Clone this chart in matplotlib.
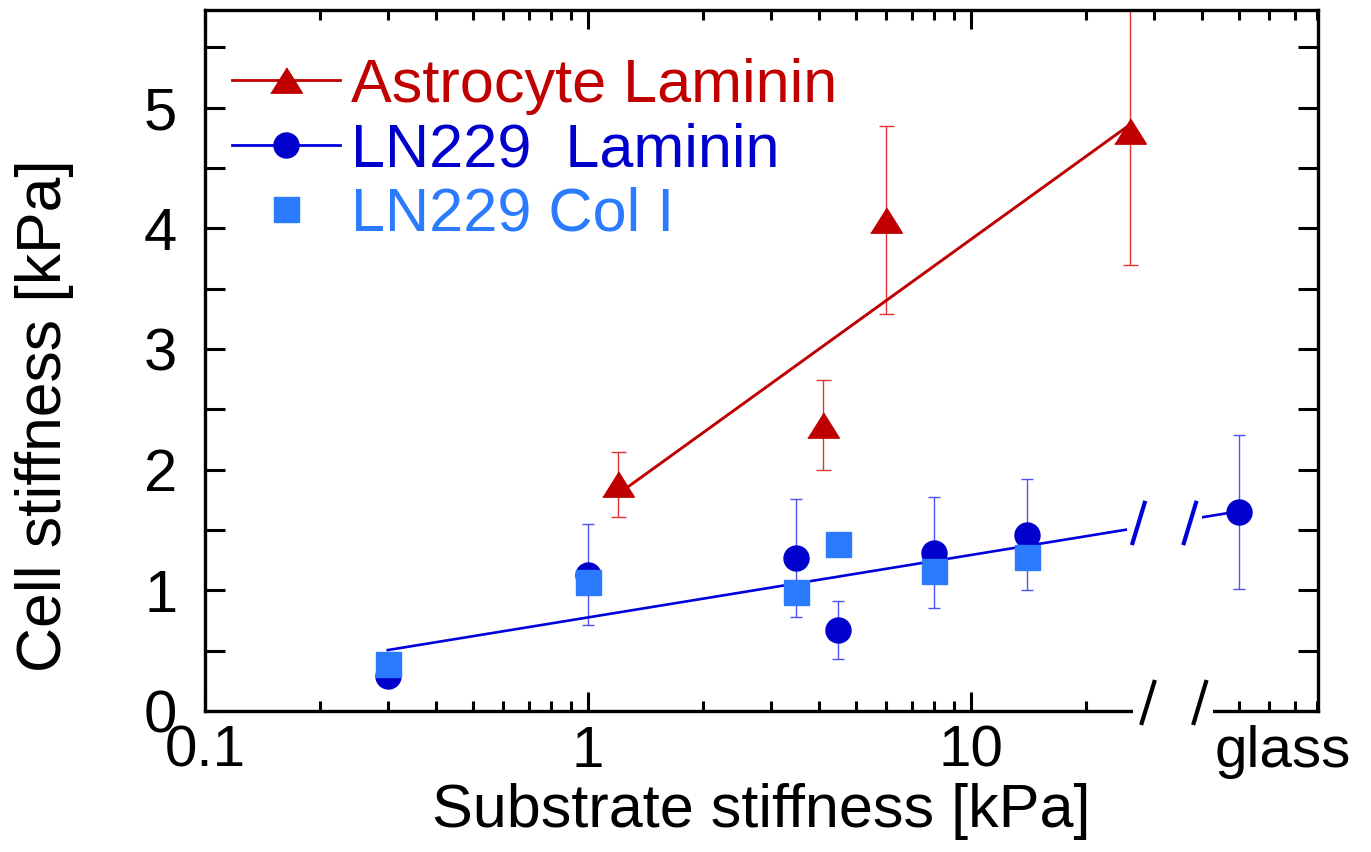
import matplotlib
matplotlib.use('Agg')
import matplotlib.pyplot as plt
import matplotlib.transforms as mtransforms
from matplotlib.lines import Line2D
from matplotlib.patches import Rectangle
from matplotlib.ticker import LogLocator, NullFormatter, FixedLocator

plt.rcParams['font.family'] = ['Liberation Sans', 'DejaVu Sans']

# ---------------- data ----------------
astro_x = [1.2, 4.1, 6.0, 26.0]
astro_y = [1.88, 2.37, 4.07, 4.81]
astro_err = [0.27, 0.37, 0.78, 1.11]
astro_fit_x = [1.2, 26.0]
astro_fit_y = [1.80, 4.86]

lam_x = [0.3, 1.0, 3.5, 4.5, 8.0, 14.0, 50.0]
lam_y = [0.29, 1.13, 1.27, 0.67, 1.31, 1.46, 1.65]
lam_err = [0.0, 0.42, 0.49, 0.24, 0.46, 0.46, 0.64]
lam_fit_x = [0.3, 50.0]
lam_fit_y = [0.505, 1.655]

col_x = [0.3, 1.0, 3.5, 4.5, 8.0, 14.0]
col_y = [0.39, 1.07, 0.99, 1.38, 1.16, 1.28]

legend_labels = ['Astrocyte Laminin', 'LN229  Laminin', 'LN229 Col I']
xtick_vals = [0.1, 1, 10]
xtick_labels = ['0.1', '1', '10']
glass_label = 'glass'
ytick_vals = [0, 1, 2, 3, 4, 5]
ytick_minor = [0.5, 1.5, 2.5, 3.5, 4.5, 5.5]
xlabel = 'Substrate stiffness [kPa]'
ylabel = 'Cell stiffness [kPa]'

# ---------------- style ----------------
RED = '#C00000'
RED_ERR = '#DD3333'
BLUE = '#0000CC'
BLUE_LINE = '#0000DD'
BLUE_ERR = '#5050F8'
LBLUE = '#2B7BFF'
tri = [(-1, -0.8), (1, -0.8), (0, 0.8)]
XPAD = 10

fig = plt.figure(figsize=(13.71, 8.52), dpi=100)
W, H = 1371, 852
ax = fig.add_axes([205 / W, 1 - 711 / H, (1318 - 205) / W, (711 - 10) / H])
ax.set_xscale('log')
ax.set_xlim(0.1, 80.5)
ax.set_ylim(0, 5.81)

# astrocyte
ax.errorbar(astro_x, astro_y, yerr=astro_err, fmt='none', ecolor=RED_ERR,
            elinewidth=1.0, capsize=5.4, capthick=1.0, zorder=2)
ax.plot(astro_fit_x, astro_fit_y, color=RED, lw=2.1, zorder=3)
ax.plot(astro_x, astro_y, ls='none', marker=tri, ms=22.8, color=RED, zorder=4)

# LN229 laminin
ax.errorbar(lam_x, lam_y, yerr=lam_err, fmt='none', ecolor=BLUE_ERR,
            elinewidth=1.0, capsize=4.6, capthick=1.0, zorder=2)
ax.plot(lam_fit_x, lam_fit_y, color=BLUE_LINE, lw=1.9, zorder=3)
ax.plot(lam_x, lam_y, ls='none', marker='o', ms=18, color=BLUE, zorder=4)

# LN229 Col I
ax.plot(col_x, col_y, ls='none', marker='s', ms=18, color=LBLUE, zorder=5)

# axis break: white gaps + slashes
ax.add_patch(Rectangle((25.5, 1.3), 40.0 - 25.5, 0.6, facecolor='white',
                       edgecolor='none', zorder=3.5))
ax.add_patch(Rectangle((26.5, -0.07), 42.9 - 26.5, 0.17, facecolor='white',
                       edgecolor='none', zorder=3.5, clip_on=False))
for xs in ([27.8, 30.2], [38.0, 41.2]):
    ax.plot(xs, [-0.116, 0.257], color='black', lw=3.0, clip_on=False,
            zorder=6, solid_capstyle='butt')
for xs in ([26.3, 28.5], [35.8, 38.8]):
    ax.plot(xs, [1.375, 1.742], color=BLUE_LINE, lw=3.0, zorder=6,
            solid_capstyle='butt')

# ticks
ax.xaxis.set_major_locator(FixedLocator(xtick_vals))
ax.set_xticklabels(xtick_labels)
ax.xaxis.set_minor_locator(LogLocator(base=10, subs=range(2, 10)))
ax.xaxis.set_minor_formatter(NullFormatter())
ax.set_yticks(ytick_vals)
ax.set_yticks(ytick_minor, minor=True)
ax.tick_params(axis='both', which='both', direction='in', top=True, right=True)
ax.tick_params(axis='x', which='major', length=14, width=2.2, pad=XPAD, labelsize=42)
ax.tick_params(axis='x', which='minor', length=7, width=2.2)
ax.tick_params(axis='y', which='both', length=14.4, width=2.2, pad=20, labelsize=43)
for s in ax.spines.values():
    s.set_linewidth(2.4)

offset = mtransforms.ScaledTranslation(0, -XPAD / 72, fig.dpi_scale_trans)
ax.text(65, 0, glass_label, transform=ax.get_xaxis_transform() + offset,
        ha='center', va='top', fontsize=42)

ax.set_xlabel(xlabel, fontsize=44, labelpad=3)
ax.set_ylabel(ylabel, fontsize=45)
ax.yaxis.set_label_coords(-0.1177, 0.421)

# legend
h1 = Line2D([], [], color=RED, lw=2, marker=tri, ms=22.8)
h2 = Line2D([], [], color=BLUE_LINE, lw=2, marker='o', ms=18, mfc=BLUE, mec=BLUE)
h3 = Line2D([], [], ls='none', marker='s', ms=18, color=LBLUE)
leg = ax.legend([h1, h2, h3], legend_labels, loc='upper left',
                bbox_to_anchor=(0.024, 0.932), frameon=False, fontsize=44,
                handlelength=1.77, handletextpad=0.19, labelspacing=0.12,
                borderpad=0, borderaxespad=0)
for t, c in zip(leg.get_texts(), [RED, BLUE, LBLUE]):
    t.set_color(c)

fig.savefig('out.png', dpi=100)
